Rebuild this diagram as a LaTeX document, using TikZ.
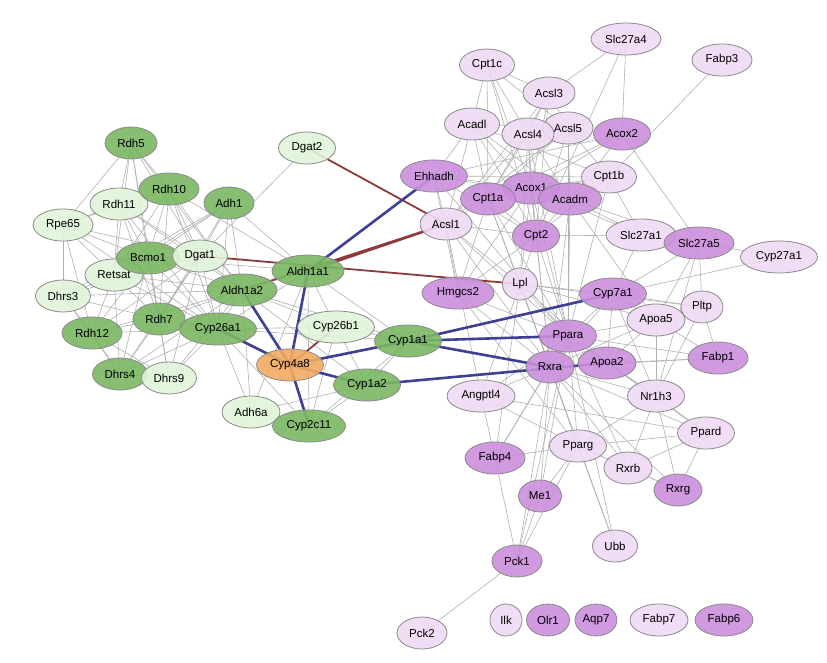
\documentclass[tikz,border=0pt]{standalone}
\usepackage{fontspec}
\setmainfont{Liberation Sans}
\usetikzlibrary{shapes.geometric}
\pgfdeclarelayer{bg}
\pgfsetlayers{bg,main}
\definecolor{dgreen}{HTML}{7AB862}
\definecolor{lgreen}{HTML}{E1F5DA}
\definecolor{dpurple}{HTML}{CB8FDD}
\definecolor{lpurple}{HTML}{F0DAF5}
\definecolor{orangeN}{HTML}{F2AA60}
\definecolor{nborder}{HTML}{8A8A8A}
\definecolor{gedgec}{HTML}{B2B2B2}
\definecolor{bedgec}{HTML}{3F3F94}
\definecolor{redgec}{HTML}{8C3A3A}
\tikzset{
  nd/.style={ellipse, draw=nborder, line width=0.8pt, inner sep=0pt, minimum height=32pt,
    font=\fontsize{11.5}{13}\selectfont, text=black, fill opacity=0.9, text opacity=1},
  DG/.style={nd, fill=dgreen},
  LG/.style={nd, fill=lgreen},
  DP/.style={nd, fill=dpurple},
  LP/.style={nd, fill=lpurple},
  OR/.style={nd, fill=orangeN},
  gedge/.style={draw=gedgec, line width=0.6pt},
  bedge/.style={draw=bedgec, line width=2.6pt},
  redge/.style={draw=redgec, line width=1.8pt},
}
\newcommand{\mynd}[5]{\node[#5, minimum width=#4pt] (#1) at (#2pt,-#3pt) {#1};}
\begin{document}
\begin{tikzpicture}
\useasboundingbox (0,0) rectangle (827pt,-663pt);
% left cluster
\mynd{Rdh5}{131}{143}{52}{DG}
\mynd{Rdh11}{119}{204}{58}{LG}
\mynd{Rdh10}{169}{189}{60}{DG}
\mynd{Rpe65}{63}{225}{60}{LG}
\mynd{Adh1}{229}{203}{50}{DG}
\mynd{Retsat}{114}{275}{58}{LG}
\mynd{Bcmo1}{148}{258}{63}{DG}
\mynd{Dgat1}{200}{256}{55}{LG}
\mynd{Dhrs3}{63}{296}{55}{LG}
\mynd{Aldh1a2}{242}{290}{70}{DG}
\mynd{Aldh1a1}{308}{271}{72}{DG}
\mynd{Rdh7}{159}{319}{52}{DG}
\mynd{Cyp26a1}{218}{329}{77}{DG}
\mynd{Rdh12}{92}{333}{60}{DG}
\mynd{Dhrs4}{120}{374}{55}{DG}
\mynd{Dhrs9}{169}{378}{55}{LG}
\mynd{Dgat2}{307}{148}{57}{LG}
\mynd{Cyp26b1}{336}{327}{77}{LG}
\mynd{Cyp1a1}{408}{341}{67}{DG}
\mynd{Cyp4a8}{290}{365}{67}{OR}
\mynd{Cyp1a2}{367}{385}{67}{DG}
\mynd{Adh6a}{251}{412}{58}{LG}
\mynd{Cyp2c11}{309}{426}{73}{DG}
% right cluster
\mynd{Ehhadh}{434}{176}{67}{DP}
\mynd{Acsl1}{446}{224}{52}{LP}
\mynd{Hmgcs2}{458}{293}{72}{DP}
\mynd{Slc27a4}{626}{39}{70}{LP}
\mynd{Fabp3}{722}{60}{60}{LP}
\mynd{Cpt1c}{487}{65}{55}{LP}
\mynd{Acsl3}{549}{93}{52}{LP}
\mynd{Acadl}{472}{124}{55}{LP}
\mynd{Acsl5}{568}{128}{50}{LP}
\mynd{Acsl4}{528}{134}{52}{LP}
\mynd{Acox2}{622}{134}{57}{DP}
\mynd{Cpt1b}{609}{177}{55}{LP}
\mynd{Acox1}{531}{188}{57}{DP}
\mynd{Cpt1a}{488}{199}{55}{DP}
\mynd{Acadm}{570}{199}{63}{DP}
\mynd{Cpt2}{536}{236}{47}{DP}
\mynd{Slc27a1}{641}{235}{70}{LP}
\mynd{Slc27a5}{699}{243}{70}{DP}
\mynd{Cyp27a1}{779}{257}{77}{LP}
\mynd{Lpl}{520}{284}{35}{LP}
\mynd{Cyp7a1}{613}{294}{67}{DP}
\mynd{Pltp}{702}{307}{42}{LP}
\mynd{Apoa5}{656}{320}{58}{LP}
\mynd{Ppara}{568}{336}{57}{DP}
\mynd{Fabp1}{718}{358}{60}{DP}
\mynd{Rxra}{550}{367}{48}{DP}
\mynd{Apoa2}{607}{363}{58}{DP}
\mynd{Angptl4}{481}{396}{68}{LP}
\mynd{Nr1h3}{656}{396}{57}{LP}
\mynd{Ppard}{706}{433}{57}{LP}
\mynd{Pparg}{578}{446}{57}{LP}
\mynd{Fabp4}{495}{458}{60}{DP}
\mynd{Rxrb}{628}{468}{48}{LP}
\mynd{Rxrg}{678}{490}{48}{DP}
\mynd{Me1}{540}{496}{43}{DP}
\mynd{Ubb}{615}{546}{45}{LP}
\mynd{Pck1}{517}{561}{50}{DP}
\mynd{Pck2}{422}{633}{50}{LP}
\mynd{Ilk}{506}{620}{32}{LP}
\mynd{Olr1}{548}{620}{43}{DP}
\mynd{Aqp7}{596}{620}{42}{DP}
\mynd{Fabp7}{659}{620}{58}{LP}
\mynd{Fabp6}{724}{620}{58}{DP}
\begin{pgfonlayer}{bg}
\fill[white] (0,0) rectangle (827pt,-663pt);
\foreach \a/\b in {Rdh5/Rpe65, Rdh5/Rdh11, Rdh5/Rdh10, Rdh5/Bcmo1, Rdh5/Dgat1, Rdh5/Retsat, Rdh5/Aldh1a2, Rdh5/Rdh7,
 Rdh10/Rdh11, Rdh10/Bcmo1, Rdh10/Dgat1, Rdh10/Retsat, Rdh10/Aldh1a2, Rdh10/Aldh1a1, Rdh10/Cyp26a1, Rdh10/Rdh7, Rdh10/Rpe65,
 Rdh11/Rpe65, Rdh11/Dgat1, Rdh11/Aldh1a2, Rdh11/Retsat, Rdh11/Rdh7, Rdh11/Bcmo1, Rdh11/Cyp26a1,
 Rpe65/Dhrs3, Rpe65/Rdh12, Rpe65/Dgat1, Rpe65/Bcmo1, Rpe65/Cyp26a1, Rpe65/Retsat,
 Adh1/Dgat1, Adh1/Bcmo1, Adh1/Retsat, Adh1/Aldh1a2, Adh1/Aldh1a1, Adh1/Cyp26a1, Adh1/Rdh7, Adh1/Dhrs3,
 Dgat2/Dgat1,
 Bcmo1/Dgat1, Bcmo1/Retsat, Bcmo1/Aldh1a2, Bcmo1/Aldh1a1, Bcmo1/Rdh7, Bcmo1/Cyp26a1, Bcmo1/Dhrs4, Bcmo1/Dhrs9, Bcmo1/Rdh12,
 Dgat1/Retsat, Dgat1/Aldh1a2, Dgat1/Rdh7, Dgat1/Cyp26a1, Dgat1/Dhrs9, Dgat1/Dhrs4, Dgat1/Rdh12, Dgat1/Dhrs3,
 Retsat/Dhrs3, Retsat/Rdh12, Retsat/Rdh7, Retsat/Aldh1a2, Retsat/Cyp26a1, Retsat/Dhrs4,
 Dhrs3/Rdh12, Dhrs3/Aldh1a2, Dhrs3/Rdh7, Dhrs3/Dhrs4,
 Aldh1a2/Rdh7, Aldh1a2/Cyp26a1, Aldh1a2/Aldh1a1, Aldh1a2/Rdh12, Aldh1a2/Dhrs4, Aldh1a2/Dhrs9, Aldh1a2/Cyp26b1, Aldh1a2/Cyp1a1, Aldh1a2/Cyp1a2, Aldh1a2/Adh6a,
 Rdh7/Cyp26a1, Rdh7/Rdh12, Rdh7/Dhrs4, Rdh7/Dhrs9,
 Cyp26a1/Rdh12, Cyp26a1/Dhrs4, Cyp26a1/Dhrs9, Cyp26a1/Cyp26b1, Cyp26a1/Adh6a, Cyp26a1/Cyp2c11, Cyp26a1/Cyp1a1, Cyp26a1/Aldh1a1,
 Rdh12/Dhrs4, Rdh12/Dhrs9, Dhrs4/Dhrs9,
 Aldh1a1/Cyp26b1, Aldh1a1/Adh6a, Aldh1a1/Cyp1a1, Aldh1a1/Cyp2c11,
 Cyp26b1/Cyp1a1, Cyp26b1/Cyp1a2, Cyp26b1/Cyp2c11,
 Cyp1a1/Cyp1a2, Cyp1a1/Cyp2c11, Cyp1a2/Cyp2c11, Adh6a/Cyp2c11, Adh6a/Cyp1a2}
 \draw[gedge] (\a.center) -- (\b.center);
\foreach \a/\b in {Slc27a4/Acsl3, Slc27a4/Acox2, Slc27a4/Cpt2, Fabp3/Cpt1b,
 Acox2/Slc27a5, Cpt1b/Slc27a1, Slc27a5/Cyp27a1, Slc27a5/Pltp, Slc27a5/Apoa5, Slc27a5/Nr1h3, Slc27a5/Cyp7a1,
 Cyp27a1/Cyp7a1, Slc27a1/Cyp7a1, Slc27a1/Acadm, Slc27a1/Cpt2, Slc27a1/Acox1,
 Cyp7a1/Pltp, Cyp7a1/Apoa5, Cyp7a1/Lpl, Cyp7a1/Ppara, Cyp7a1/Rxra, Cyp7a1/Nr1h3, Cyp7a1/Apoa2,
 Pltp/Fabp1, Pltp/Nr1h3,
 Cpt1c/Acsl3, Cpt1c/Acadl, Cpt1c/Acsl4, Cpt1c/Acox1, Cpt1c/Cpt2, Cpt1c/Acsl5, Cpt1c/Cpt1a,
 Acsl3/Acsl4, Acsl3/Acsl5, Acsl3/Acsl1, Acsl3/Cpt1a, Acsl3/Cpt2, Acsl3/Acox1,
 Acadl/Ehhadh, Acadl/Acsl1, Acadl/Cpt1a, Acadl/Acadm, Acadl/Acox1, Acadl/Cpt2, Acadl/Cpt1b, Acadl/Acsl5,
 Acsl4/Acsl5, Acsl4/Acsl1, Acsl4/Cpt1a, Acsl4/Cpt2, Acsl4/Acadm, Acsl4/Acox1, Acsl4/Ppara, Acsl4/Lpl,
 Acsl5/Acsl1, Acsl5/Cpt1a, Acsl5/Acadm, Acsl5/Cpt2, Acsl5/Cpt1b, Acsl5/Ppara,
 Acox2/Acox1, Acox2/Ehhadh, Acox2/Acadm, Acox2/Cpt1a,
 Ehhadh/Acox1, Ehhadh/Acadm, Ehhadh/Cpt1b, Ehhadh/Acsl1, Ehhadh/Cpt2, Ehhadh/Ppara, Ehhadh/Hmgcs2,
 Cpt1b/Acox1, Cpt1b/Cpt1a, Cpt1b/Cpt2, Cpt1b/Acadm, Cpt1b/Ppara,
 Acox1/Acadm, Acox1/Cpt1a, Acox1/Cpt2, Acox1/Ppara, Acox1/Rxra, Acox1/Hmgcs2, Acox1/Lpl,
 Cpt1a/Cpt2, Cpt1a/Acsl1, Cpt1a/Ppara, Cpt1a/Rxra, Cpt1a/Hmgcs2, Cpt1a/Lpl,
 Acadm/Cpt2, Acadm/Ppara, Acadm/Rxra, Acadm/Slc27a5, Acadm/Apoa5,
 Cpt2/Acsl1, Cpt2/Ppara, Cpt2/Rxra, Cpt2/Lpl, Cpt2/Hmgcs2,
 Acsl1/Lpl, Acsl1/Ppara, Acsl1/Rxra, Acsl1/Hmgcs2, Acsl1/Angptl4,
 Hmgcs2/Ppara, Hmgcs2/Rxra, Hmgcs2/Pparg,
 Lpl/Ppara, Lpl/Rxra, Lpl/Apoa5, Lpl/Pparg, Lpl/Angptl4, Lpl/Pltp, Lpl/Apoa2, Lpl/Fabp4,
 Ppara/Rxra, Ppara/Apoa5, Ppara/Apoa2, Ppara/Fabp1, Ppara/Pparg, Ppara/Angptl4, Ppara/Me1, Ppara/Pck1, Ppara/Fabp4, Ppara/Nr1h3, Ppara/Rxrb, Ppara/Ubb,
 Rxra/Apoa2, Rxra/Apoa5, Rxra/Fabp1, Rxra/Nr1h3, Rxra/Pparg, Rxra/Ppard, Rxra/Rxrb, Rxra/Rxrg, Rxra/Me1, Rxra/Pck1, Rxra/Fabp4, Rxra/Angptl4, Rxra/Ubb,
 Apoa5/Apoa2, Apoa5/Nr1h3, Apoa5/Fabp1, Apoa5/Pltp,
 Apoa2/Fabp1, Apoa2/Nr1h3, Apoa2/Ppard,
 Nr1h3/Pparg, Nr1h3/Ppard, Nr1h3/Rxrb, Nr1h3/Rxrg,
 Angptl4/Fabp4, Angptl4/Pparg, Angptl4/Ppard,
 Pparg/Fabp4, Pparg/Me1, Pparg/Ppard, Pparg/Rxrb, Pparg/Ubb, Pparg/Rxrg, Pparg/Pck1,
 Ppard/Rxrb, Ppard/Rxrg, Rxrb/Rxrg, Fabp4/Pck1, Me1/Pck1, Pck1/Pck2}
 \draw[gedge] (\a.center) -- (\b.center);
% coloured edges
\foreach \a/\b in {Dgat2/Acsl1, Aldh1a2/Acsl1, Dgat1/Lpl, Cyp4a8/Cyp26b1}
 \draw[redge] (\a.center) -- (\b.center);
\draw[redge, line width=2.4pt] (Aldh1a1.center) -- (Acsl1.center);
\foreach \a/\b in {Aldh1a1/Ehhadh, Aldh1a1/Cyp4a8, Aldh1a2/Cyp4a8, Cyp26a1/Cyp4a8, Cyp4a8/Cyp2c11, Cyp4a8/Cyp1a1, Cyp4a8/Cyp1a2,
 Cyp1a1/Cyp7a1, Cyp1a1/Ppara, Cyp1a1/Rxra, Cyp1a2/Apoa2}
 \draw[bedge] (\a.center) -- (\b.center);
\end{pgfonlayer}
\end{tikzpicture}
\end{document}
